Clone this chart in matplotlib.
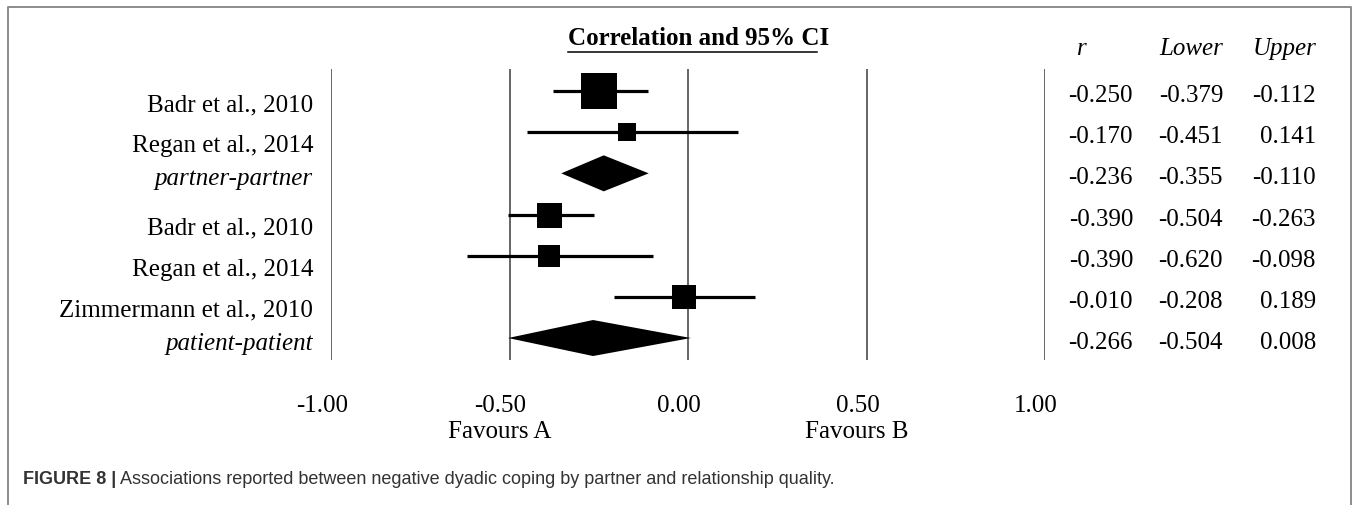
import numpy as np
import matplotlib
matplotlib.use("Agg")
import matplotlib.pyplot as plt
from matplotlib.lines import Line2D
from matplotlib.patches import Polygon
from matplotlib.transforms import IdentityTransform, blended_transform_factory, ScaledTranslation

# data
labels = ["Badr et al., 2010", "Regan et al., 2014", "partner-partner",
          "Badr et al., 2010", "Regan et al., 2014", "Zimmermann et al., 2010",
          "patient-patient"]
r_vals = [-0.250, -0.170, -0.236, -0.390, -0.390, -0.010, -0.266]
lower = [-0.379, -0.451, -0.355, -0.504, -0.620, -0.208, -0.504]
upper = [-0.112, 0.141, -0.110, -0.263, -0.098, 0.189, 0.008]
summary = [False, False, True, False, False, False, True]
box_px = [36, 18, 0, 25, 23, 24, 0]   # square side (weight)
ticks = [-1.0, -0.5, 0.0, 0.5, 1.0]
tick_labels = ["-1.00", "-0.50", "0.00", "0.50", "1.00"]
favours = {-0.5: "Favours A", 0.5: "Favours B"}
col_heads = ["r", "Lower", "Upper"]

W, H = 1358, 506
SERIF = "Liberation Serif"
FS = 18

fig = plt.figure(figsize=(W / 100, H / 100), dpi=100)
fig.patch.set_facecolor("white")

# axes placed in pixel terms: x=-1 at px 331, x=1 at px 1045, lines from px 70 to 361
ax = fig.add_axes([331 / W, (H - 361) / H, 714 / W, 291 / H])
ax.set_xlim(-1, 1)
step = 41.17
ax.set_ylim((361 - 92) / step, (70 - 92) / step)
ax.axis("off")

rows = np.arange(len(labels))

for t in ticks:
    ax.axvline(t, color="#3c3c3c", lw=1.1, zorder=1)

for i in rows:
    if summary[i]:
        h = 18 / step
        diamond = Polygon([(lower[i], i), (r_vals[i], i - h), (upper[i], i),
                           (r_vals[i], i + h)], closed=True, color="black", lw=0, zorder=3)
        ax.add_patch(diamond)
    else:
        ax.plot([lower[i], upper[i]], [i, i], color="black", lw=2.3, zorder=2,
                solid_capstyle="butt")
        ax.scatter([r_vals[i]], [i], marker="s", s=(box_px[i] * 0.72) ** 2,
                   color="black", linewidths=0, zorder=3)

def dy(px):
    return ScaledTranslation(0, -px / 100, fig.dpi_scale_trans)

def dx(px):
    return ScaledTranslation(px / 100, 0, fig.dpi_scale_trans)

row_tr = blended_transform_factory(IdentityTransform(), ax.transData)
px_tr = IdentityTransform()

# study labels
for i in rows:
    off = 11 if summary[i] else 19
    ax.text(313, i, labels[i], transform=row_tr + dy(off), ha="right", va="baseline",
            fontsize=FS, family=SERIF, style="italic" if summary[i] else "normal")

# table of r / lower / upper
col_right = [1133, 1223, 1316]
for i in rows:
    for x, v in zip(col_right, [r_vals[i], lower[i], upper[i]]):
        ax.text(x, i, "%.3f" % v, transform=row_tr + dy(10), ha="right",
                va="baseline", fontsize=FS, family=SERIF)

fig.text(1082, H - 55, col_heads[0], transform=px_tr, ha="center", va="baseline",
         fontsize=FS, family=SERIF, style="italic")
fig.text(1223, H - 55, col_heads[1], transform=px_tr, ha="right", va="baseline",
         fontsize=FS, family=SERIF, style="italic")
fig.text(1317, H - 55, col_heads[2], transform=px_tr, ha="right", va="baseline",
         fontsize=FS, family=SERIF, style="italic")

# x tick labels and favours text
tick_tr = blended_transform_factory(ax.transData, IdentityTransform())
for t, lab in zip(ticks, tick_labels):
    ax.text(t, H - 412, lab, transform=tick_tr + dx(-9), ha="center", va="baseline",
            fontsize=FS, family=SERIF)
for t, lab in favours.items():
    ax.text(t, H - 438, lab, transform=tick_tr + dx(-10), ha="center", va="baseline",
            fontsize=FS, family=SERIF)

# heading with underline
fig.text(699, H - 45, "Correlation and 95% CI", transform=px_tr, ha="center",
         va="baseline", fontsize=FS, family=SERIF, weight="bold")
fig.add_artist(Line2D([568, 817], [H - 53, H - 53], transform=px_tr,
                      color="black", lw=1.1))

# frame around the figure (no bottom edge visible)
fig.add_artist(Line2D([7.5, 7.5, 1351, 1351], [0, H - 7.5, H - 7.5, 0],
                      transform=px_tr, color="#8c8c8c", lw=1.4))

# caption
cap1 = fig.text(23, H - 484, "FIGURE 8 |", transform=px_tr, ha="left", va="baseline",
                fontsize=13, family="Liberation Sans", weight="bold", color="#333333")
ax.annotate(" Associations reported between negative dyadic coping by partner and relationship quality.",
            xy=(1, 0), xycoords=cap1, va="bottom", ha="left",
            fontsize=13, family="Liberation Sans", color="#333333",
            annotation_clip=False)

fig.savefig("out.png", dpi=100, facecolor="white")
